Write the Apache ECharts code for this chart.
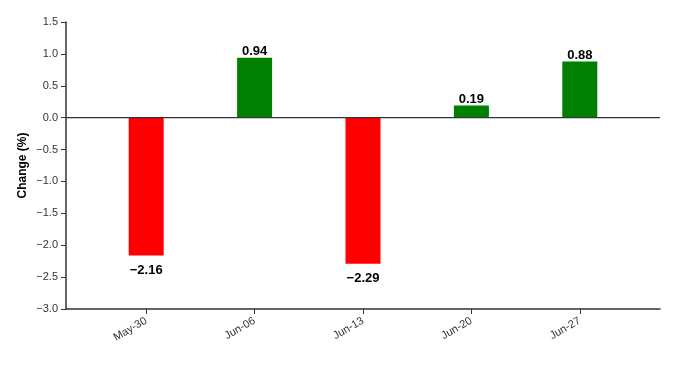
<!DOCTYPE html>
<html>
<head>
<meta charset="utf-8">
<script src="https://cdn.jsdelivr.net/npm/echarts@6/dist/echarts.min.js"></script>
<style>
  html, body { margin: 0; padding: 0; background: #fff; }
  #chart { width: 682px; height: 378px; }
</style>
</head>
<body>
<div id="chart"></div>
<script>
var weeks = ['May-30', 'Jun-06', 'Jun-13', 'Jun-20', 'Jun-27']
var changes = [-2.16, 0.94, -2.29, 0.19, 0.88]
var yMin = -3.0
var yMax = 1.5
var yStep = 0.5

var upColor = '#008000'
var downColor = '#ff0000'
var fontFamily = '"Liberation Sans", Arial, sans-serif'

function minus(s) {
  return String(s).replace('-', '\u2212')
}

var barData = changes.map(function (v) {
  return {
    value: v,
    itemStyle: { color: v >= 0 ? upColor : downColor },
    label: v >= 0 ? { position: 'top', distance: 0 } : { position: 'bottom', distance: 8 }
  }
})

var chart = echarts.init(document.getElementById('chart'))
chart.setOption({
  animation: false,
  textStyle: { fontFamily: fontFamily },
  grid: [
    { left: 66, right: 22, top: 22, bottom: 69 },
    { left: 92, right: 48, top: 22, bottom: 69 }
  ],
  xAxis: [{
    gridIndex: 0,
    type: 'value',
    min: 0,
    max: 1,
    axisLine: { show: true, onZero: false, lineStyle: { color: '#333', width: 1.5 } },
    axisTick: { show: false },
    axisLabel: { show: false },
    splitLine: { show: false }
  }, {
    gridIndex: 1,
    type: 'category',
    data: weeks,
    axisLine: { show: false, onZero: false },
    axisTick: { show: true, alignWithLabel: true, length: 5, lineStyle: { color: '#333' } },
    axisLabel: { rotate: 30, fontSize: 11, color: '#333', margin: 11 }
  }],
  yAxis: [{
    gridIndex: 0,
    type: 'value',
    min: yMin,
    max: yMax,
    interval: yStep,
    name: 'Change (%)',
    nameLocation: 'middle',
    nameGap: 37,
    nameMoveOverlap: false,
    nameTextStyle: { fontSize: 12, fontWeight: 'bold', color: '#000' },
    axisLine: { show: true, lineStyle: { color: '#333', width: 1.5 } },
    axisTick: { show: true, length: 5, lineStyle: { color: '#333' } },
    axisLabel: {
      fontSize: 11,
      color: '#333',
      margin: 8,
      formatter: function (v) { return minus(v.toFixed(1)) }
    },
    splitLine: { show: false }
  }, {
    gridIndex: 1,
    type: 'value',
    min: yMin,
    max: yMax,
    interval: yStep,
    show: false
  }],
  series: [{
    // zero baseline across the whole frame
    type: 'line',
    xAxisIndex: 0,
    yAxisIndex: 0,
    data: [[0, 0], [1, 0]],
    symbol: 'none',
    silent: true,
    lineStyle: { color: '#333', width: 1.2 }
  }, {
    type: 'bar',
    xAxisIndex: 1,
    yAxisIndex: 1,
    barWidth: 35,
    data: barData,
    label: {
      show: true,
      fontSize: 13,
      fontWeight: 'bold',
      color: '#000',
      formatter: function (p) { return minus(p.value.toFixed(2)) }
    }
  }]
})
</script>
</body>
</html>
